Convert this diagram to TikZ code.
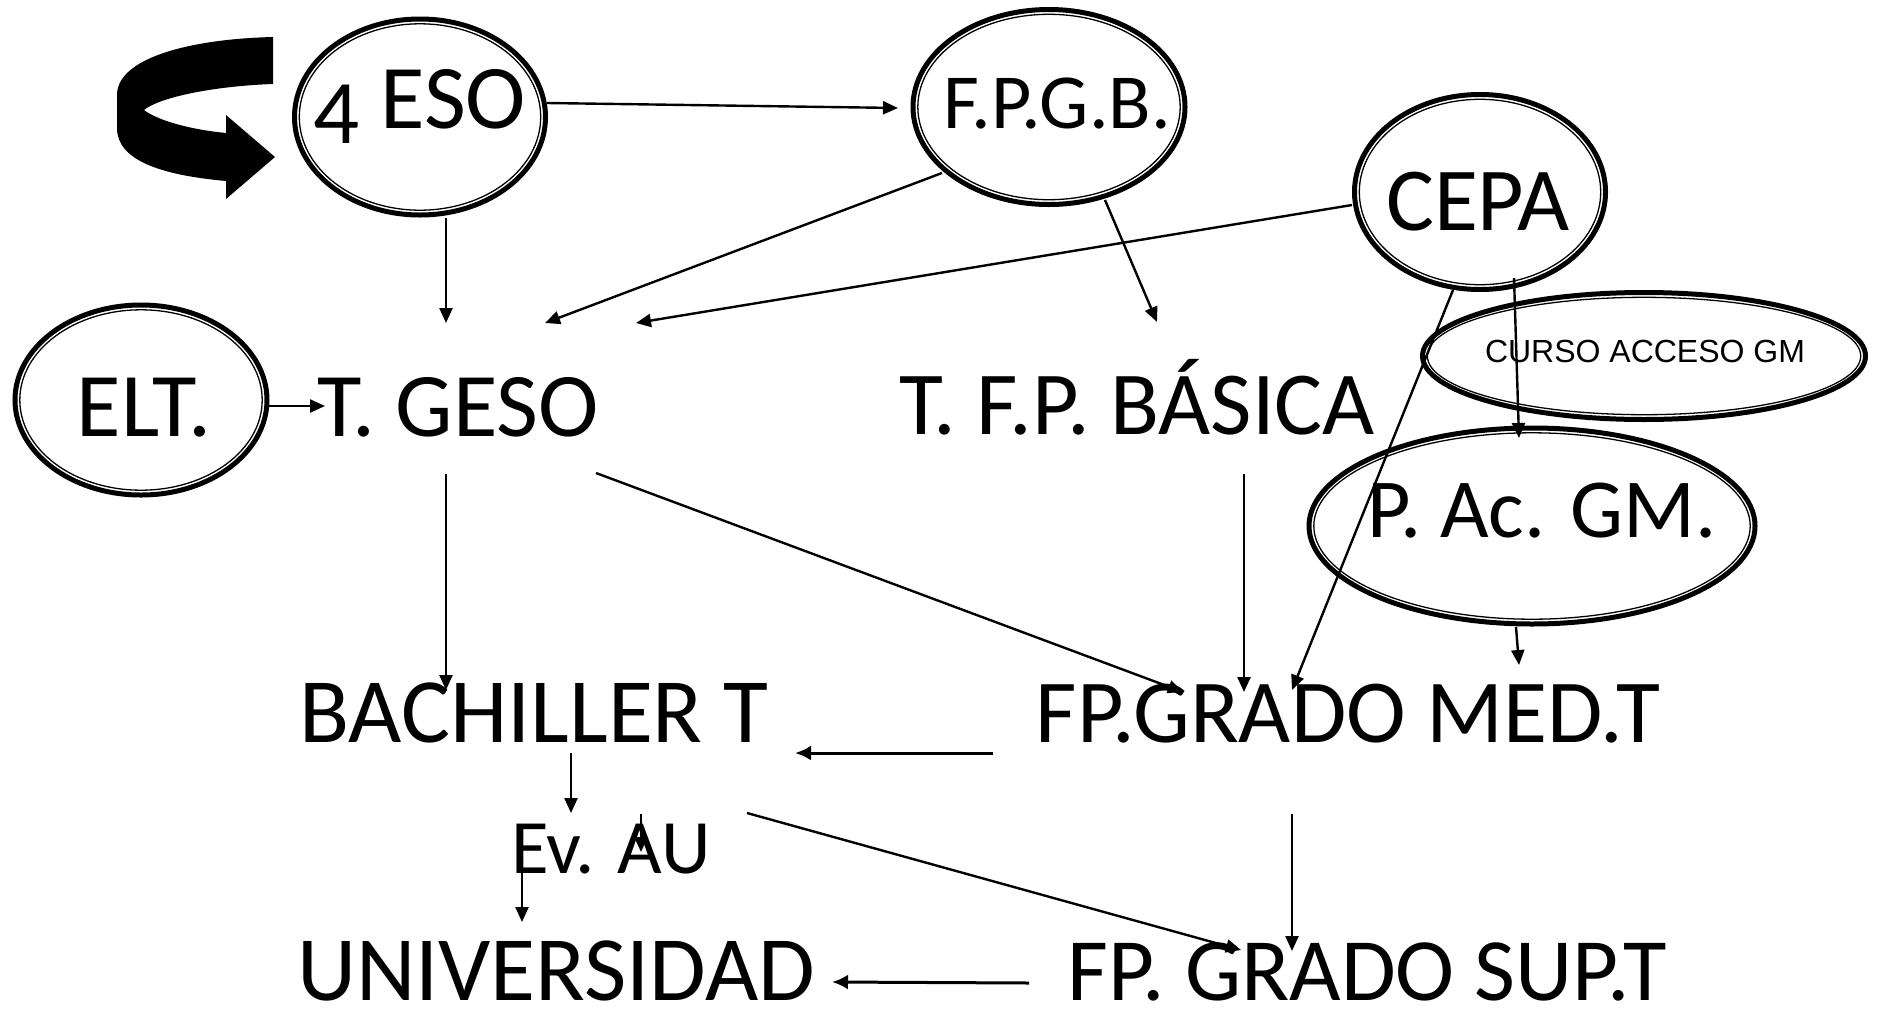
\documentclass[tikz,border=0pt]{standalone}
\usepackage{fontspec}
\setmainfont{Carlito}
\newfontfamily\arialfont{Liberation Sans}
\usetikzlibrary{calc,arrows.meta,shapes.geometric}

\begin{document}
\begin{tikzpicture}[x=1pt,y=1pt,yscale=-1,
	ring/.style={ellipse, draw, line width=5pt, inner sep=0pt,
		path picture={\draw[line width=1.3pt] let \p1=($(path picture bounding box.north east)-(path picture bounding box.center)$) in (path picture bounding box.center) ellipse [x radius=\x1-4.8pt, y radius=\y1-4.8pt];}},
	lbl/.style={inner sep=0pt, anchor=base, font=\fontsize{#1pt}{#1pt}\selectfont},
	arr/.style={line width=2.4pt, -{Triangle[length=15pt,width=13pt]}},
	bigarr/.style={line width=3pt, -{Latex[length=16pt,width=15pt]}}]
		\useasboundingbox (0,0) rectangle (1878,1023);

		% turning arrow
		\fill (273,37) -- (273,84) .. controls (215,86) and (160,97) .. (144,110) .. controls (160,122) and (195,130) .. (226,133) -- (226,115) -- (275,157) -- (226,199) -- (226,181) .. controls (160,175) and (117,160) .. (117,128) -- (117,95) .. controls (117,58) and (190,39) .. (273,37) -- cycle;

		\node[ring, minimum width=251pt, minimum height=196pt] (eso) at (420,117) {};
		\node[ring, minimum width=272pt, minimum height=195pt] (fpgb) at (1049,107) {};
		\node[ring, minimum width=251pt, minimum height=195pt] (cepa) at (1480,192) {};
		\node[ring, minimum width=443pt, minimum height=127pt] (curso) at (1644,356) {};
		\node[ring, minimum width=446pt, minimum height=196pt] (pacgm) at (1532,526) {};
		\node[ring, minimum width=252pt, minimum height=190pt] (elt) at (141,400) {};

		\node[lbl=91] (esotxt) at (420,128) {\raisebox{-15pt}{4} ESO};
		\node[lbl=78] (fpgbtxt) at (1057,128) {F.P.G.B.};
		\node[lbl=90] (cepatxt) at (1478,230) {CEPA};
		\node[lbl=32] (cursotxt) at (1645,362) {\arialfont CURSO ACCESO GM};
		\node[lbl=84] (pacgmtxt) at (1542,537) {P. Ac. GM.};
		\node[lbl=91] (elttxt) at (144,436) {ELT.};
		\node[lbl=91] (geso) at (458,436) {T. GESO};
		\node[lbl=90] (basica) at (1137,434) {T. F.P. BÁSICA};
		\node[lbl=92] (bach) at (534,742) {BACHILLER T};
		\node[lbl=90] (gmed) at (1348,742) {FP.GRADO MED.T};
		\node[lbl=77] (evau) at (611,873) {Ev. AU};
		\node[lbl=92] (univ) at (556,1000) {UNIVERSIDAD};
		\node[lbl=89] (gsup) at (1367,1000) {FP. GRADO SUP.T};

		\draw[arr] ($(eso)+(127,-14)$) -- ($(fpgb)+(-151,1)$);
		\draw[arr] ($(eso)+(26,101)$) -- ($(geso.base)+(-12,-113)$);
		\draw[arr] ($(fpgb)+(-107,66)$) -- ($(geso.base)+(87,-113)$);
		\draw[arr] ($(cepa)+(-128,13)$) -- ($(geso.base)+(178,-113)$);
		\draw[arr] ($(fpgb)+(56,93)$) -- ($(basica.base)+(20,-112)$);
		\draw[arr] ($(elt)+(128,6)$) -- ($(geso.base)+(-133,-30)$);
		\draw[arr] ($(cepa)+(-27,98)$) -- ($(gmed.base)+(-56,-52)$);
		\draw[arr] ($(cepa)+(34,86)$) -- ($(pacgm)+(-13,-88)$);
		\draw[arr] ($(geso.base)+(-12,38)$) -- ($(bach.base)+(-88,-52)$);
		\draw[arr] ($(geso.base)+(138,37)$) -- ($(gmed.base)+(-165,-50)$);
		\draw[arr] ($(basica.base)+(107,40)$) -- ($(gmed.base)+(-104,-50)$);
		\draw[arr] ($(pacgm)+(-16,101)$) -- ($(gmed.base)+(171,-77)$);
		\draw[bigarr] ($(gmed.base)+(-355,11)$) -- ($(bach.base)+(261,11)$);
		\draw[arr] ($(bach.base)+(37,11)$) -- ($(evau.base)+(-40,-60)$);
		\draw[arr] ($(evau.base)+(30,-59)$) -- ($(evau.base)+(30,-21)$);
		\draw[arr] ($(bach.base)+(213,71)$) -- ($(gsup.base)+(-126,-50)$);
		\draw[arr] ($(evau.base)+(-89,0)$) -- ($(univ.base)+(-34,-78)$);
		\draw[arr] ($(gmed.base)+(-56,72)$) -- ($(gsup.base)+(-75,-49)$);
		\draw[bigarr] ($(gsup.base)+(-338,-17)$) -- ($(univ.base)+(276,-18)$);
\end{tikzpicture}
\end{document}
